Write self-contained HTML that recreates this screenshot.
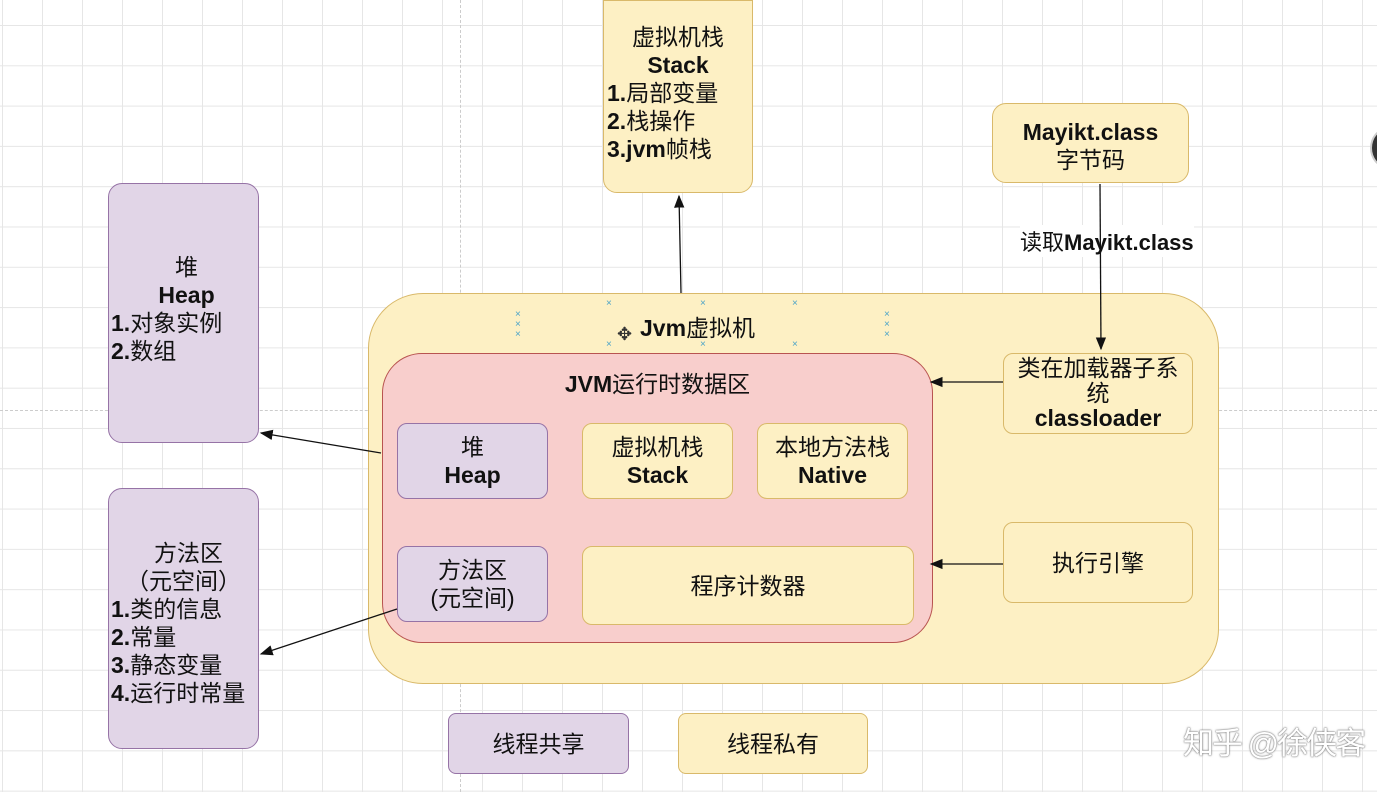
<!DOCTYPE html>
<html><head><meta charset="utf-8">
<style>
body{margin:0;width:1377px;height:792px;overflow:hidden;background:#fff;position:relative;font-family:"Liberation Sans","Noto Sans CJK SC",sans-serif;color:#111}
.grid{position:absolute;left:0;top:0;width:1377px;height:792px;background-image:linear-gradient(#e6e6e6 1px,transparent 1px),linear-gradient(90deg,#e6e6e6 1px,transparent 1px);background-size:40px 40.3px;background-position:2px 25px}
.b{position:absolute;box-sizing:border-box;border-radius:14px;display:flex;flex-direction:column;justify-content:center;align-items:center;text-align:center;font-size:23px;line-height:28px;white-space:nowrap}
.y{background:#fdf0c4;border:1px solid #d9b96a}
.p{background:#e1d5e7;border:1px solid #9673a6}
.r{background:#f8cecc;border:1px solid #b85450}
b{font-weight:bold}
</style></head><body>
<div class="grid"></div>
<div style="position:absolute;left:460px;top:0;height:792px;border-left:1px dashed #ccc"></div>
<div style="position:absolute;top:410px;left:0;width:1377px;border-top:1px dashed #ccc"></div>

<div class="b y" style="left:603px;top:0;width:150px;height:193px;border-radius:0 0 14px 14px;justify-content:flex-start;padding-top:22px"><div>虚拟机栈</div><b>Stack</b><b style="align-self:flex-start;padding-left:3px;text-align:left">1.<span style="font-weight:normal">局部变量</span><br>2.<span style="font-weight:normal">栈操作</span><br>3.jvm<span style="font-weight:normal">帧栈</span></b></div>

<div class="b y" style="left:992px;top:103px;width:197px;height:80px;justify-content:flex-start;padding-top:14px"><b>Mayikt.class</b><div>字节码</div></div>
<div style="position:absolute;left:1020px;top:225px;font-size:22px;background:#fff;white-space:nowrap">读取<b>Mayikt.class</b></div>

<div class="b p" style="left:108px;top:183px;width:151px;height:260px;padding-bottom:8px"><div style="padding-left:6px">堆</div><b style="padding-left:6px">Heap</b><div style="align-self:flex-start;padding-left:2px;text-align:left"><b>1.</b>对象实例<br><b>2.</b>数组</div></div>

<div class="b p" style="left:108px;top:488px;width:151px;height:261px;padding-top:8px"><div style="padding-left:10px">方法区</div><div>（元空间）</div><div style="align-self:flex-start;padding-left:2px;text-align:left"><b>1.</b>类的信息<br><b>2.</b>常量<br><b>3.</b>静态变量<br><b>4.</b>运行时常量</div></div>

<div class="b y" style="left:368px;top:293px;width:851px;height:391px;border-radius:55px"></div>
<div style="position:absolute;left:640px;top:309px;font-size:23px;white-space:nowrap"><b>Jvm</b>虚拟机</div>
<div class="b r" style="left:382px;top:353px;width:551px;height:290px;border-radius:40px;justify-content:flex-start;padding-top:16px"><div><b>JVM</b>运行时数据区</div></div>
<div class="b p" style="left:397px;top:423px;width:151px;height:76px;border-radius:10px"><div>堆</div><b>Heap</b></div>
<div class="b y" style="left:582px;top:423px;width:151px;height:76px;border-radius:10px"><div>虚拟机栈</div><b>Stack</b></div>
<div class="b y" style="left:757px;top:423px;width:151px;height:76px;border-radius:10px"><div>本地方法栈</div><b>Native</b></div>
<div class="b p" style="left:397px;top:546px;width:151px;height:76px;border-radius:10px"><div>方法区</div><div>(元空间)</div></div>
<div class="b y" style="left:582px;top:546px;width:332px;height:79px;border-radius:10px">程序计数器</div>

<div class="b y" style="left:1003px;top:353px;width:190px;height:81px;border-radius:10px;line-height:25px"><div>类在加载器子系<br>统</div><b>classloader</b></div>
<div class="b y" style="left:1003px;top:522px;width:190px;height:81px;border-radius:10px">执行引擎</div>

<div class="b p" style="left:448px;top:713px;width:181px;height:61px;border-radius:8px">线程共享</div>
<div class="b y" style="left:678px;top:713px;width:190px;height:61px;border-radius:8px">线程私有</div>

<div style="position:absolute;left:1183px;top:718px;font-size:31px;letter-spacing:-2px;color:#fff;white-space:nowrap;text-shadow:0 0 2px #777,0 0 1px #555">知乎 @徐侠客</div>
<div style="position:absolute;left:1370px;top:128px;width:30px;height:36px;border-radius:50%;background:#333;border:2px solid #ccc"></div>

<svg style="position:absolute;left:0;top:0" width="1377" height="792">
<defs><marker id="a" markerWidth="10" markerHeight="10" refX="9" refY="5" orient="auto"><path d="M0,1 L10,5 L0,9 Z" fill="#111"/></marker></defs>
<g stroke="#111" stroke-width="1.3" fill="none">
<line x1="681" y1="293" x2="679" y2="196" marker-end="url(#a)"/>
<line x1="1100" y1="184" x2="1101" y2="349" marker-end="url(#a)"/>
<line x1="1003" y1="382" x2="931" y2="382" marker-end="url(#a)"/>
<line x1="1003" y1="564" x2="931" y2="564" marker-end="url(#a)"/>
<line x1="381" y1="453" x2="261" y2="433" marker-end="url(#a)"/>
<line x1="397" y1="609" x2="261" y2="654" marker-end="url(#a)"/>
</g>
<g fill="#4aa3c8" font-size="10" font-family="Liberation Sans">
<text x="515" y="317">×</text><text x="515" y="327">×</text><text x="515" y="337">×</text>
<text x="884" y="317">×</text><text x="884" y="327">×</text><text x="884" y="337">×</text>
<text x="606" y="306">×</text><text x="700" y="306">×</text><text x="792" y="306">×</text>
<text x="606" y="347">×</text><text x="700" y="347">×</text><text x="792" y="347">×</text>
</g>
<text x="617" y="340" font-size="18" fill="#333">✥</text>
</svg>
</body></html>
